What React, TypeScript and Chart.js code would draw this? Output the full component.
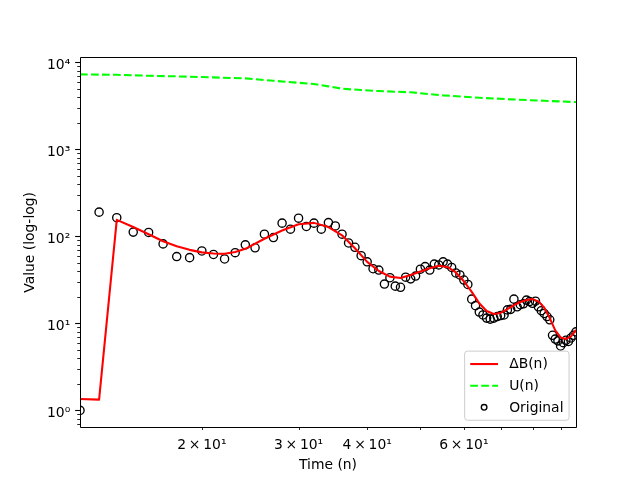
import React, { useEffect, useRef } from "react";
import { Chart, registerables } from "chart.js";

Chart.register(...registerables);

// ---- Data ----
const originalN = [
  12, 13, 14, 15, 16, 17, 18, 19, 20, 21, 22, 23, 24, 25, 26, 27, 28, 29, 30,
  31, 32, 33, 34, 35, 36, 37, 38, 39, 40, 41, 42, 43, 44, 45, 46, 47, 48, 49,
  50, 51, 52, 53, 54, 55, 56, 57, 58, 59, 60, 61, 62, 63, 64, 65, 66, 67, 68,
  69, 70, 71, 72, 73, 74, 75, 76, 77, 78, 79, 80, 81, 82, 83, 84, 85, 86, 87,
  88, 89, 90, 91, 92, 93, 94, 95, 96,
];
const originalValues = [
  1.0, 190, 164, 112, 111, 82, 58.6, 57, 68, 62, 55, 65, 80, 74, 106, 97, 142,
  121, 162, 130, 142, 121, 144, 132, 106, 84, 75, 60, 51, 42.5, 41, 28.3, 33.5,
  26.8, 26, 34, 32.5, 35, 42, 45, 41, 48, 47, 51, 48, 44, 38, 36, 31.5, 28, 19,
  16, 13.5, 12.5, 11.5, 11.2, 11.5, 12, 12.3, 12.5, 14.3, 14.5, 19, 15.5, 16.4,
  16.8, 18.5, 17.8, 17, 18, 15.5, 14, 13, 12, 11, 7.3, 6.6, 6.3, 5.5, 6.0, 6.4,
  6.2, 6.8, 7.3, 8.0,
];

const deltaBN = [
  12, 13, 14, 15, 16, 17, 18, 19, 20, 21, 22, 23, 24, 26, 28, 30, 32, 34, 36,
  38, 40, 42, 44, 46, 48, 50, 52, 54, 56, 58, 60, 62, 64, 66, 68, 70, 72, 74,
  76, 78, 80, 82, 84, 86, 88, 90, 92, 94, 96,
];
const deltaBValues = [
  1.35, 1.33, 155, 128, 106, 88, 77, 70, 65.5, 63.5, 63, 66, 72, 94, 117, 138,
  143, 128, 103, 73, 51, 40, 34.5, 33.3, 36, 39.5, 43, 46, 44.5, 38.5, 30.5, 23,
  17, 13.9, 12.8, 13.2, 14.6, 16.2, 17.6, 18.6, 19, 17.9, 15.2, 11.5, 8.3, 6.9,
  6.6, 7.1, 8.4,
];

const uN = [12, 14, 16, 18, 21, 24, 27, 32, 34, 36, 39, 42, 48, 55, 64, 73, 84, 96];
const uValues = [
  7280, 7200, 7020, 6910, 6720, 6550, 6150, 5640, 5300, 4980, 4810, 4680, 4530,
  4180, 3920, 3760, 3620, 3500,
];

const xTicks = [20, 30, 40, 50, 60, 70, 80, 90];
const xTickLabels = [
  "2\u2009×\u200910¹",
  "3\u2009×\u200910¹",
  "4\u2009×\u200910¹",
  "",
  "6\u2009×\u200910¹",
  "",
  "",
  "",
];
const yMajorTicks = [1, 10, 100, 1000, 10000];
const yMajorLabels = ["10⁰", "10¹", "10²", "10³", "10⁴"];

const X_MIN = 12;
const X_MAX = 96;
const Y_MIN = 0.641;
const Y_MAX = 11350;

const FAMILY = "'DejaVu Sans', 'Liberation Sans', sans-serif";
const FS = 13.9;

function buildYTicks() {
  const out: { value: number }[] = [];
  for (let e = -1; e <= 4; e++) {
    for (let m = 1; m <= 9; m++) {
      const v = m * Math.pow(10, e);
      if (v >= Y_MIN && v <= Y_MAX) out.push({ value: v });
    }
  }
  return out;
}

const mplOverlay = {
  id: "mplOverlay",
  afterDatasetsDraw(chart: any) {
    const { ctx, chartArea: a, scales } = chart;
    const xs = scales.x;
    const ys = scales.y;
    ctx.save();
    ctx.strokeStyle = "#000";
    ctx.setLineDash([]);
    // y ticks
    ys.ticks.forEach((t: any) => {
      const major = yMajorTicks.indexOf(t.value) >= 0;
      const p = Math.round(ys.getPixelForValue(t.value)) + 0.5;
      const len = major ? 4.86 : 2.78;
      ctx.lineWidth = major ? 1.1 : 0.85;
      ctx.beginPath();
      ctx.moveTo(a.left - len, p);
      ctx.lineTo(a.left, p);
      ctx.stroke();
    });
    // x ticks (all minor in this range)
    xs.ticks.forEach((t: any) => {
      const p = Math.round(xs.getPixelForValue(t.value)) + 0.5;
      ctx.lineWidth = 0.85;
      ctx.beginPath();
      ctx.moveTo(p, a.bottom);
      ctx.lineTo(p, a.bottom + 2.78);
      ctx.stroke();
    });
    // frame
    ctx.lineWidth = 1;
    const l = Math.floor(a.left) + 0.5;
    const r = Math.floor(a.right) + 0.5;
    const tp = Math.floor(a.top) + 0.5;
    const b = Math.floor(a.bottom) + 0.5;
    ctx.beginPath();
    ctx.moveTo(l, tp);
    ctx.lineTo(r, tp);
    ctx.lineTo(r, b);
    ctx.lineTo(l, b);
    ctx.closePath();
    ctx.stroke();

    // legend (matplotlib style, lower right)
    ctx.font = `${FS}px ${FAMILY}`;
    const ds = chart.data.datasets;
    const pad = 0.4 * FS;
    const handleLen = 2.0 * FS;
    const textPad = 0.8 * FS;
    const rowH = 14.7;
    const spacing = 0.5 * FS;
    const axPad = 0.5 * FS;
    let maxW = 0;
    ds.forEach((d: any) => {
      maxW = Math.max(maxW, ctx.measureText(d.label).width);
    });
    const w = 2 * pad + handleLen + textPad + maxW;
    const h = 2 * pad + ds.length * rowH + (ds.length - 1) * spacing;
    const lx = a.right - axPad - w;
    const ly = a.bottom - axPad - h;
    ctx.beginPath();
    if ((ctx as any).roundRect) {
      (ctx as any).roundRect(lx, ly, w, h, 2.8);
    } else {
      ctx.rect(lx, ly, w, h);
    }
    ctx.fillStyle = "rgba(255,255,255,0.8)";
    ctx.fill();
    ctx.strokeStyle = "#cccccc";
    ctx.lineWidth = 1;
    ctx.stroke();

    ds.forEach((d: any, i: number) => {
      const cy = ly + pad + rowH / 2 + i * (rowH + spacing);
      const hx0 = lx + pad;
      const hx1 = hx0 + handleLen;
      if (d.showLine) {
        ctx.strokeStyle = d.borderColor;
        ctx.lineWidth = d.borderWidth;
        ctx.setLineDash(d.borderDash || []);
        ctx.beginPath();
        ctx.moveTo(hx0, cy);
        ctx.lineTo(hx1, cy);
        ctx.stroke();
        ctx.setLineDash([]);
      } else {
        ctx.strokeStyle = d.pointBorderColor;
        ctx.lineWidth = d.pointBorderWidth;
        ctx.beginPath();
        ctx.arc((hx0 + hx1) / 2, cy, 2.8, 0, Math.PI * 2);
        ctx.stroke();
      }
      ctx.fillStyle = "#000";
      ctx.textAlign = "left";
      ctx.textBaseline = "alphabetic";
      ctx.fillText(d.label, hx1 + textPad, cy + 4.2);
    });
    ctx.restore();
  },
};

export default function App() {
  const canvasRef = useRef<HTMLCanvasElement | null>(null);

  useEffect(() => {
    const canvas = canvasRef.current;
    if (!canvas) return;
    const tickFont = { family: FAMILY, size: FS };
    const chart = new Chart(canvas, {
      type: "scatter",
      data: {
        datasets: [
          {
            label: "ΔB(n)",
            data: deltaBN.map((n, i) => ({ x: n, y: deltaBValues[i] })),
            showLine: true,
            borderColor: "#ff0000",
            borderWidth: 2.08,
            borderJoinStyle: "round",
            pointRadius: 0,
            clip: 0,
            order: 1,
          } as any,
          {
            label: "U(n)",
            data: uN.map((n, i) => ({ x: n, y: uValues[i] })),
            showLine: true,
            borderColor: "#00ff00",
            borderWidth: 2.08,
            borderDash: [7.7, 3.3],
            pointRadius: 0,
            clip: 0,
            order: 2,
          } as any,
          {
            label: "Original",
            data: originalN.map((n, i) => ({ x: n, y: originalValues[i] })),
            showLine: false,
            pointRadius: 4.1,
            pointBorderWidth: 1.35,
            pointBorderColor: "#000000",
            pointBackgroundColor: "rgba(0,0,0,0)",
            clip: 0,
            order: 3,
          } as any,
        ],
      },
      options: {
        animation: false,
        responsive: false,
        events: [],
        layout: { padding: { left: 0, right: 64, top: 57.6, bottom: 0 } },
        plugins: {
          legend: { display: false },
          tooltip: { enabled: false },
        },
        scales: {
          x: {
            type: "logarithmic",
            min: X_MIN,
            max: X_MAX,
            bounds: "data",
            afterFit: (s: any) => {
              s.height = 52.8;
            },
            afterBuildTicks: (s: any) => {
              s.ticks = xTicks.map((v) => ({ value: v }));
            },
            grid: {
              display: true,
              drawOnChartArea: false,
              drawTicks: true,
              tickLength: 2.78,
              color: "rgba(0,0,0,0)",
            },
            border: { display: false },
            ticks: {
              autoSkip: false,
              maxRotation: 0,
              minRotation: 0,
              padding: 7,
              color: "#000",
              font: tickFont,
              callback: (v: any) => {
                const i = xTicks.indexOf(Number(v));
                return i >= 0 ? xTickLabels[i] : "";
              },
            },
            title: {
              display: true,
              text: "Time (n)",
              color: "#000",
              font: tickFont,
              padding: { top: 0, bottom: 6 },
            },
          },
          y: {
            type: "logarithmic",
            min: Y_MIN,
            max: Y_MAX,
            bounds: "data",
            afterFit: (s: any) => {
              s.width = 80;
            },
            afterBuildTicks: (s: any) => {
              s.ticks = buildYTicks();
            },
            grid: {
              display: true,
              drawOnChartArea: false,
              drawTicks: true,
              tickLength: 4.86,
              color: "rgba(0,0,0,0)",
            },
            border: { display: false },
            ticks: {
              autoSkip: false,
              padding: 4.86,
              labelOffset: 3.4,
              color: "#000",
              font: tickFont,
              callback: (v: any) => {
                const i = yMajorTicks.indexOf(Number(v));
                return i >= 0 ? yMajorLabels[i] : "";
              },
            },
            title: {
              display: true,
              text: "Value (log-log)",
              color: "#000",
              font: tickFont,
              padding: { top: 22.5, bottom: 0 },
            },
          },
        },
      } as any,
      plugins: [mplOverlay],
    });
    return () => chart.destroy();
  }, []);

  return (
    <div style={{ position: "absolute", left: 0, top: 0, width: 640, height: 480, background: "#fff" }}>
      <canvas ref={canvasRef} width={640} height={480} style={{ display: "block" }} />
    </div>
  );
}
